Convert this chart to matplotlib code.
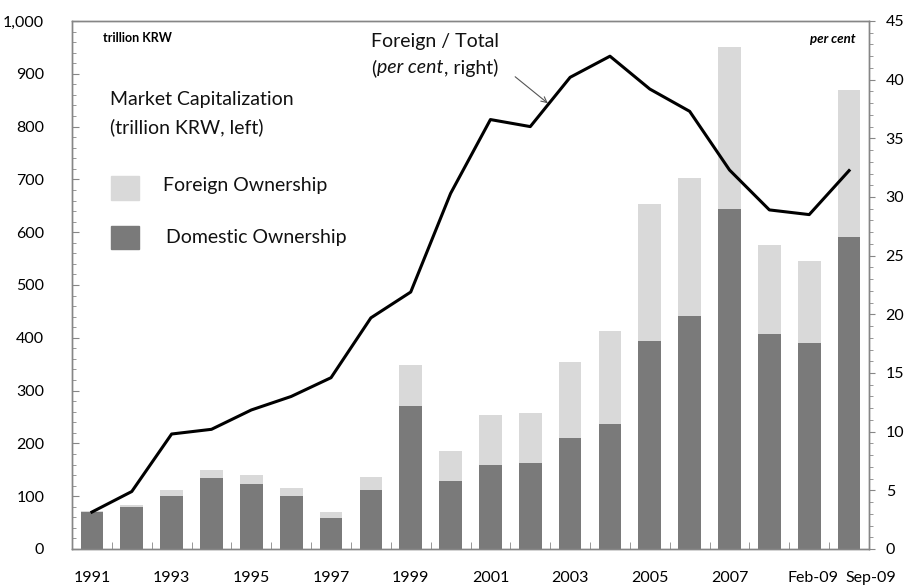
import matplotlib
matplotlib.use("Agg")
import matplotlib.pyplot as plt
import matplotlib.transforms as mtransforms
import numpy as np
from matplotlib.patches import Rectangle
from matplotlib.ticker import FuncFormatter, MultipleLocator

plt.rcParams['font.family'] = ['Lato', 'DejaVu Sans']

categories = ['1991', '1992', '1993', '1994', '1995', '1996', '1997', '1998', '1999', '2000',
              '2001', '2002', '2003', '2004', '2005', '2006', '2007', '2008', 'Feb-09', 'Sep-09']
total_cap = [72, 83, 112, 150, 140, 116, 70, 136, 348, 186,
             254, 257, 354, 412, 653, 703, 951, 575, 545, 870]
domestic = [70, 79, 100, 134, 124, 100, 59, 111, 271, 129,
            160, 163, 211, 237, 393, 441, 643, 408, 390, 590]
foreign_share = [3.15, 4.9, 9.8, 10.2, 11.85, 13.0, 14.6, 19.7, 21.9, 30.3,
                 36.6, 36.0, 40.2, 42.0, 39.2, 37.3, 32.3, 28.9, 28.5, 32.25]
shown_labels = ['1991', '1993', '1995', '1997', '1999', '2001', '2003', '2005', '2007', 'Feb-09', 'Sep-09']

foreign = [t - d for t, d in zip(total_cap, domestic)]

W, H = 906, 587
fig = plt.figure(figsize=(W / 100, H / 100), dpi=100)
L, R, T, B = 72, 869, 21, 549
ax = fig.add_axes([L / W, 1 - B / H, (R - L) / W, (B - T) / H])

def px(x, y):
    return (x / W, 1 - y / H)

light = '#D9D9D9'
dark = '#7A7A7A'
spine_c = '#868686'
txt_c = '#111111'
fs = 14

x = np.arange(len(categories))
bw = 0.57
ax.bar(x, domestic, width=bw, color=dark, zorder=2)
ax.bar(x, foreign, bottom=domestic, width=bw, color=light, zorder=2)

ax.set_xlim(-0.5, len(categories) - 0.5)
ax.set_ylim(0, 1000)
ax.yaxis.set_major_locator(MultipleLocator(100))
ax.yaxis.set_minor_locator(MultipleLocator(20))
ax.yaxis.set_major_formatter(FuncFormatter(lambda v, p: f"{int(v):,}"))
ax.tick_params(axis='y', which='major', direction='in', length=5, color=spine_c,
               labelsize=11.5, pad=20)
ax.tick_params(axis='y', which='minor', direction='in', length=3, color=spine_c)

ax.set_xticks([categories.index(c) for c in shown_labels])
ax.set_xticklabels(shown_labels)
ax.set_xticks(np.arange(-0.5, len(categories), 1.0), minor=True)
ax.tick_params(axis='x', which='major', length=0, labelsize=11.5, pad=16)
ax.tick_params(axis='x', which='minor', direction='in', length=5, color=spine_c)
last = ax.get_xticklabels()[-1]
last.set_transform(last.get_transform() + mtransforms.ScaledTranslation(0.22, 0, fig.dpi_scale_trans))
prev = ax.get_xticklabels()[-2]
prev.set_transform(prev.get_transform() + mtransforms.ScaledTranslation(0.04, 0, fig.dpi_scale_trans))

for s in ax.spines.values():
    s.set_color(spine_c)
    s.set_linewidth(1.0)

ax2 = ax.twinx()
ax2.plot(x, foreign_share, color='black', lw=2.2, zorder=5)
ax2.set_ylim(0, 45)
ax2.yaxis.set_major_locator(MultipleLocator(5))
ax2.yaxis.set_minor_locator(MultipleLocator(1))
ax2.tick_params(axis='y', which='major', direction='out', length=4, color=spine_c,
                labelsize=11.5, pad=8)
ax2.tick_params(axis='y', which='minor', direction='out', length=3, color=spine_c)
for s in ax2.spines.values():
    s.set_color(spine_c)
    s.set_linewidth(1.0)

# annotations
fig.text(*px(103, 38), 'trillion KRW', fontsize=9, fontweight='bold', ha='left', va='center')
fig.text(*px(856, 39), 'per cent', fontsize=9.5, fontweight='bold', style='italic', ha='right', va='center')

fig.text(*px(110, 100), 'Market Capitalization', fontsize=fs, ha='left', va='center', color=txt_c)
fig.text(*px(110, 127), '(trillion KRW, left)', fontsize=fs, ha='left', va='center', color=txt_c)

fig.patches.append(Rectangle(px(111, 200), 28 / W, 24 / H, transform=fig.transFigure, color=light))
fig.patches.append(Rectangle(px(111, 249), 28 / W, 23 / H, transform=fig.transFigure, color=dark))
fig.text(*px(163, 186), 'Foreign Ownership', fontsize=fs, ha='left', va='center', color=txt_c)
fig.text(*px(166, 238), 'Domestic Ownership', fontsize=fs, ha='left', va='center', color=txt_c)

fig.text(*px(371, 42), 'Foreign / Total', fontsize=fs, ha='left', va='center', color=txt_c)
fig.canvas.draw()
renderer = fig.canvas.get_renderer()
yline = px(371, 68)[1]
t1 = fig.text(371 / W, yline, '(', fontsize=fs, ha='left', va='center', color=txt_c)
e1 = t1.get_window_extent(renderer)
t2 = fig.text(e1.x1 / W + 0.001, yline, 'per cent', fontsize=fs, style='italic', ha='left',
              va='center', color=txt_c)
e2 = t2.get_window_extent(renderer)
fig.text(e2.x1 / W, yline, ', right)', fontsize=fs, ha='left', va='center', color=txt_c)

ax.annotate('', xy=px(550, 105), xytext=px(513, 75), xycoords='figure fraction',
            textcoords='figure fraction',
            arrowprops=dict(arrowstyle='->', color='#555555', lw=0.8))

fig.savefig('out.png', dpi=100)
